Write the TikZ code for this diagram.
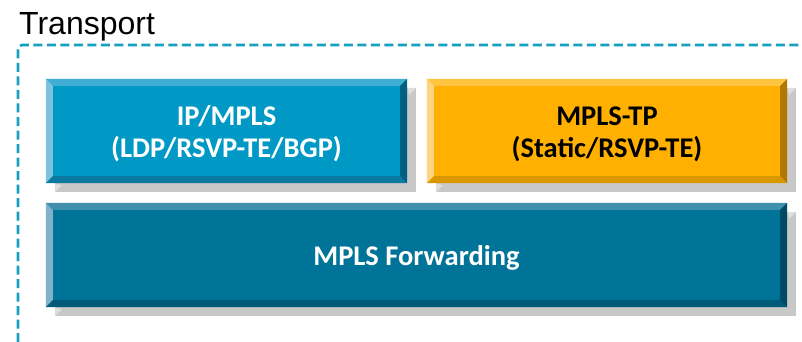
\documentclass[tikz,border=0pt]{standalone}
\usepackage{fontspec}
\setmainfont{Carlito}
\newfontfamily\arialfont{Liberation Sans}
\usetikzlibrary{calc,backgrounds}
\definecolor{dashc}{RGB}{20,160,190}
\definecolor{bA}{RGB}{0,153,198}
\definecolor{bAt}{RGB}{64,174,212}
\definecolor{bAl}{RGB}{124,196,222}
\definecolor{bAb}{RGB}{10,122,160}
\definecolor{bAr}{RGB}{0,96,128}
\definecolor{bB}{RGB}{255,176,0}
\definecolor{bBt}{RGB}{255,196,64}
\definecolor{bBl}{RGB}{255,212,128}
\definecolor{bBb}{RGB}{217,152,0}
\definecolor{bBr}{RGB}{176,120,0}
\definecolor{bC}{RGB}{0,115,153}
\definecolor{bCt}{RGB}{63,143,173}
\definecolor{bCl}{RGB}{127,177,200}
\definecolor{bCb}{RGB}{0,90,122}
\definecolor{bCr}{RGB}{0,74,102}
\definecolor{shad}{RGB}{200,200,200}
\definecolor{shadl}{RGB}{222,222,222}
\tikzset{
  layerbox/.style={rectangle, inner sep=0pt, minimum height=104pt},
  layertext/.style={inner sep=0pt, align=center, yshift=-3pt,
    font=\bfseries\fontsize{28.5}{32}\selectfont},
}
\newcommand\bevelit[5]{%
  \fill[#2] (#1.north west) -- (#1.north east) -- ($(#1.north east)+(-7,7)$) -- ($(#1.north west)+(7,7)$) -- cycle;
  \fill[#3] (#1.north west) -- ($(#1.north west)+(7,7)$) -- ($(#1.south west)+(7,-7)$) -- (#1.south west) -- cycle;
  \fill[#4] (#1.south west) -- ($(#1.south west)+(7,-7)$) -- ($(#1.south east)+(-7,-7)$) -- (#1.south east) -- cycle;
  \fill[#5] (#1.north east) -- (#1.south east) -- ($(#1.south east)+(-7,-7)$) -- ($(#1.north east)+(-7,7)$) -- cycle;
  \begin{scope}[on background layer]
    \fill[shad] ($(#1.north west)+(9,9)$) rectangle ($(#1.south east)+(9,9)$);
    \fill[shadl] ($(#1.south west)+(9,9)$) -- ($(#1.south west)+(9,0)$) -- ($(#1.south west)+(16,2)$) -- cycle;
    \fill[shadl] ($(#1.north east)+(9,9)$) -- ($(#1.north east)+(0,9)$) -- ($(#1.north east)+(2,16)$) -- cycle;
  \end{scope}
}
\begin{document}
\begin{tikzpicture}[x=1pt,y=-1pt]
\useasboundingbox (0,0) rectangle (802,342);
\node[anchor=base west, inner sep=0pt, font=\arialfont\fontsize{32}{38}\selectfont] (title) at (19,35) {Transport};
\coordinate (dA) at (18,342);
\coordinate (dB) at (18,45);
\coordinate (dC) at (802,45);
\draw[dashc, line width=2.6pt, dash pattern=on 9pt off 4.5pt, rounded corners=4pt] (dA) -- (dB) -- (dC);
\node[layerbox, fill=bA, minimum width=361pt] (ip) at (226.5,131) {};
\node[layerbox, fill=bB, minimum width=360pt] (tp) at (607,131) {};
\node[layerbox, fill=bC, minimum width=741pt] (fwd) at (416.5,255) {};
\bevelit{ip}{bAt}{bAl}{bAb}{bAr}
\bevelit{tp}{bBt}{bBl}{bBb}{bBr}
\bevelit{fwd}{bCt}{bCl}{bCb}{bCr}
\node[layertext, text=white] (ipt) at (ip.center) {IP/MPLS\\(LDP/RSVP-TE/BGP)};
\node[layertext, text=black] (tpt) at (tp.center) {MPLS-TP\\(Static/RSVP-TE)};
\node[layertext, text=white] (fwdt) at (fwd.center) {MPLS Forwarding};
\end{tikzpicture}
\end{document}
